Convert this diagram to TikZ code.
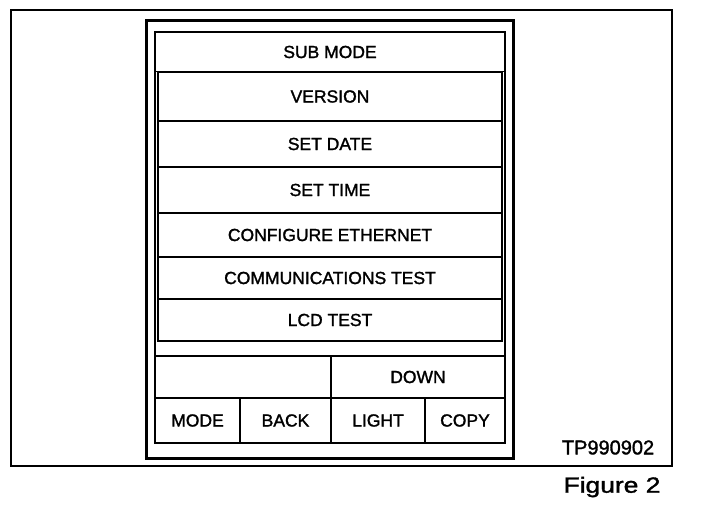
\documentclass[tikz,border=0pt]{standalone}
\usepackage{fontspec}
\setmainfont[FakeBold=1.5]{Liberation Sans}
\begin{document}
\begin{tikzpicture}[x=1pt,y=-1pt,
  lbl/.style={font=\fontsize{17.5}{20}\selectfont},
  box/.style={draw, rectangle, inner sep=0pt},
  item/.style={box, line width=2pt, minimum width=344pt, lbl},
  key/.style={box, line width=2pt, minimum height=45pt, lbl},
  panel/.style={box, line width=2.2pt, minimum height=42pt, lbl},
]
\useasboundingbox (0,0) rectangle (704,508);
% outer frame
\node[box, line width=2.4pt, minimum width=661pt, minimum height=456pt] (frame) at (341.5,238) {};
% device outline (double line)
\node[box, line width=3pt, minimum width=367pt, minimum height=437pt] (devout) at (329.5,239.5) {};
\node[box, line width=2.5pt, minimum width=350pt, minimum height=411pt] (devin) at (330,237.5) {};
% title
\node[box, line width=1pt, minimum width=350pt, minimum height=40pt, lbl] (sub) at (330,52) {SUB MODE};
% menu items
\node[item, minimum height=49pt] (version) at (330,96.5) {VERSION};
\node[item, minimum height=46pt] (setdate) at (330,144) {SET DATE};
\node[item, minimum height=46pt] (settime) at (330,190) {SET TIME};
\node[item, minimum height=44pt] (config) at (330,235) {CONFIGURE ETHERNET};
\node[item, minimum height=42pt] (comm) at (330,278) {COMMUNICATIONS TEST};
\node[item, minimum height=42pt] (lcd) at (330,320) {LCD TEST};
% lower panel
\node[panel, minimum width=176pt] (blank) at (243,377) {};
\node[panel, minimum width=174pt] (down) at (418,377) {DOWN};
\node[key, minimum width=85pt] (mode) at (197.5,420.5) {MODE};
\node[key, minimum width=91pt] (back) at (285.5,420.5) {BACK};
\node[key, minimum width=94pt] (light) at (378,420.5) {LIGHT};
\node[key, minimum width=80pt] (copy) at (465,420.5) {COPY};
% captions
\node[font=\fontsize{20}{22}\selectfont, inner sep=0pt] (tp) at (608,447.5) {TP990902};
\node[font=\fontsize{22}{24}\selectfont, inner sep=0pt, anchor=base] (fig) at (612,492.7) {\scalebox{1.2}[1]{Figure 2}};
\end{tikzpicture}
\end{document}
